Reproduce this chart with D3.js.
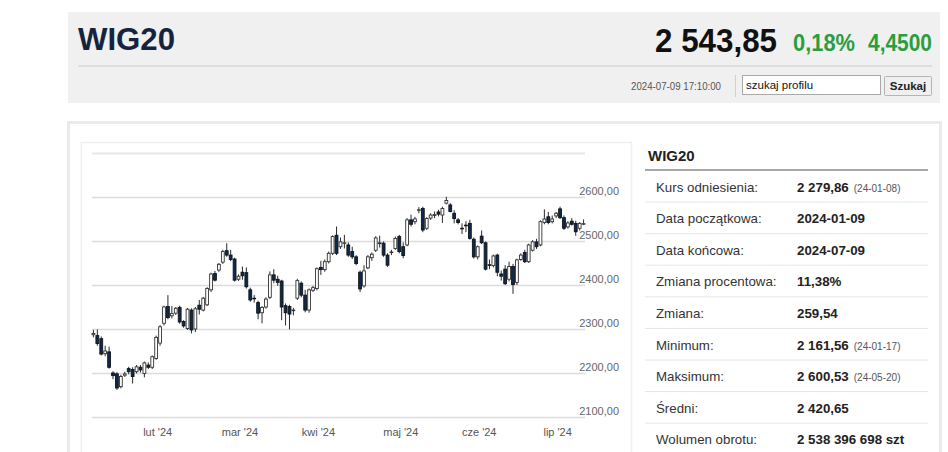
<!DOCTYPE html>
<html>
<head>
<meta charset="utf-8">
<script src="https://cdn.jsdelivr.net/npm/d3@7"></script>
<style>
  body { margin: 0; background: #fff; }
  svg text { font-family: "Liberation Sans", Arial, sans-serif; }
  svg text.narrow { font-family: "Liberation Sans Narrow", "Arial Narrow", "Liberation Sans", Arial, sans-serif; }
</style>
</head>
<body>
<div id="chart"></div>
<script>

//--------------------------------------------------------------------------
//
// data
//

var indexName = "WIG20",
    lastPrice = "2 543,85",
    changePct = "0,18%",
    changeAbs = "4,4500",
    quoteTime = "2024-07-09 17:10:00",
    searchHint = "szukaj profilu",
    searchButton = "Szukaj";

// trading days 2024 (MM-DD)
var days = [
  "01-09","01-10","01-11","01-12","01-15","01-16","01-17","01-18","01-19","01-22","01-23","01-24","01-25","01-26","01-29","01-30","01-31",
  "02-01","02-02","02-05","02-06","02-07","02-08","02-09","02-12","02-13","02-14","02-15","02-16","02-19","02-20","02-21","02-22","02-23","02-26","02-27","02-28","02-29",
  "03-01","03-04","03-05","03-06","03-07","03-08","03-11","03-12","03-13","03-14","03-15","03-18","03-19","03-20","03-21","03-22","03-25","03-26","03-27","03-28",
  "04-02","04-03","04-04","04-05","04-08","04-09","04-10","04-11","04-12","04-15","04-16","04-17","04-18","04-19","04-22","04-23","04-24","04-25","04-26","04-29","04-30",
  "05-02","05-06","05-07","05-08","05-09","05-10","05-13","05-14","05-15","05-16","05-17","05-20","05-21","05-22","05-23","05-24","05-27","05-28","05-29","05-31",
  "06-03","06-04","06-05","06-06","06-07","06-10","06-11","06-12","06-13","06-14","06-17","06-18","06-19","06-20","06-21","06-24","06-25","06-26","06-27","06-28",
  "07-01","07-02","07-03","07-04","07-05","07-08","07-09"
];

var open = [
  2287,2285,2278,2244,2248,2200,2198,2169,2195,2210,
  2208,2203,2213,2199,2218,2213,2233,2268,2313,2351,
  2330,2336,2349,2317,2301,2343,2300,2354,2343,2355,
  2389,2426,2434,2452,2478,2468,2459,2413,2429,2428,
  2389,2370,2360,2337,2350,2372,2423,2413,2409,2353,
  2351,2342,2370,2404,2377,2343,2388,2392,2440,2435,
  2453,2472,2513,2487,2495,2491,2476,2464,2429,2398,
  2439,2462,2479,2494,2495,2468,2474,2483,2510,2487,
  2491,2548,2544,2570,2574,2529,2552,2558,2566,2559,
  2586,2582,2563,2548,2529,2536,2540,2504,2464,2511,
  2496,2446,2444,2468,2425,2436,2413,2442,2406,2458,
  2474,2453,2479,2498,2491,2542,2555,2544,2557,2573,
  2553,2532,2545,2540,2529,2539
];

var high = [
  2298,2299,2283,2262,2260,2204,2202,2196,2203,2214,
  2213,2218,2218,2226,2224,2240,2285,2309,2353,2377,
  2352,2350,2353,2320,2348,2347,2350,2366,2373,2395,
  2428,2432,2450,2480,2495,2480,2462,2424,2442,2440,
  2394,2377,2364,2352,2372,2431,2436,2421,2412,2358,
  2355,2348,2414,2408,2389,2392,2398,2440,2455,2458,
  2476,2513,2533,2508,2514,2497,2487,2468,2433,2445,
  2468,2474,2511,2512,2499,2472,2480,2510,2514,2497,
  2552,2560,2555,2577,2578,2554,2563,2567,2571,2578,
  2600.53,2586,2570,2552,2540,2545,2548,2508,2490,2524,
  2499,2458,2469,2471,2433,2445,2453,2448,2460,2472,
  2480,2494,2502,2505,2547,2572,2566,2558,2566,2578,
  2558,2545,2552,2546,2543,2549
];

var low = [
  2281,2262,2240,2238,2210,2186,2161.56,2165,2191,2197,
  2176,2199,2201,2190,2209,2209,2230,2262,2308,2322,
  2324,2332,2312,2303,2298,2290,2293,2333,2340,2352,
  2384,2408,2430,2448,2464,2454,2408,2409,2412,2392,
  2362,2360,2322,2313,2346,2368,2404,2398,2320,2308,
  2299,2331,2366,2372,2338,2337,2384,2388,2423,2430,
  2449,2468,2468,2482,2483,2464,2459,2445,2384,2394,
  2436,2455,2475,2485,2464,2441,2468,2480,2472,2461,
  2488,2533,2538,2563,2520,2525,2548,2552,2556,2541,
  2583,2565,2540,2538,2516,2520,2503,2460,2458,2493,
  2433,2436,2440,2420,2410,2400,2408,2380,2400,2455,
  2450,2450,2476,2482,2488,2538,2538,2540,2552,2550,
  2525,2528,2535,2512,2524,2536
];

var close = [
  2290,2267,2243,2250,2213,2194,2166,2192,2198,2203,
  2192,2214,2207,2223,2213,2237,2281,2305,2350,2326,
  2335,2347,2316,2307,2345,2298,2346,2345,2370,2392,
  2425,2411,2447,2476,2468,2458,2411,2420,2421,2396,
  2366,2369,2336,2349,2368,2423,2411,2406,2350,2337,
  2334,2343,2410,2377,2343,2389,2394,2437,2435,2453,
  2472,2510,2472,2498,2496,2468,2464,2449,2391,2432,
  2464,2470,2507,2496,2468,2445,2475,2506,2476,2467,
  2548,2538,2550,2571,2525,2551,2559,2560,2561,2574,
  2592,2567,2551,2542,2528,2535,2506,2464,2487,2496,
  2436,2445,2466,2429,2420,2403,2442,2401,2457,2468,
  2453,2491,2498,2487,2544,2550,2542,2550,2563,2553,
  2529,2541,2538,2521,2540,2539.40
];

var monthKeys = ["02", "03", "04", "05", "06", "07"],
    monthLabels = ["lut '24", "mar '24", "kwi '24", "maj '24", "cze '24", "lip '24"];

var gridTicks = [2100, 2200, 2300, 2400, 2500, 2600, 2700],
    labelTicks = [2100, 2200, 2300, 2400, 2500, 2600];

var statLabels = ["Kurs odniesienia:", "Data początkowa:", "Data końcowa:", "Zmiana procentowa:",
                  "Zmiana:", "Minimum:", "Maksimum:", "Średni:", "Wolumen obrotu:"],
    statValues = ["2 279,86", "2024-01-09", "2024-07-09", "11,38%",
                  "259,54", "2 161,56", "2 600,53", "2 420,65", "2 538 396 698 szt"],
    statNotes = ["(24-01-08)", "", "", "", "", "(24-01-17)", "(24-05-20)", "", ""];

//--------------------------------------------------------------------------
//
// page
//

var svg = d3.select("#chart").append("svg")
    .attr("width", 948)
    .attr("height", 452);

// header box
var header = svg.append("g").attr("class", "header");

header.append("rect")
    .attr("x", 68).attr("y", 12)
    .attr("width", 872).attr("height", 91)
    .attr("fill", "#f0f0f0");

header.append("text")
    .attr("class", "narrow")
    .attr("x", 78).attr("y", 50)
    .attr("font-size", 31).attr("font-weight", "bold")
    .attr("fill", "#16233f")
    .attr("textLength", 97).attr("lengthAdjust", "spacingAndGlyphs")
    .text(indexName);

header.append("text")
    .attr("class", "narrow")
    .attr("x", 777).attr("y", 52)
    .attr("text-anchor", "end")
    .attr("font-size", 34).attr("font-weight", "bold")
    .attr("fill", "#111")
    .attr("textLength", 122).attr("lengthAdjust", "spacingAndGlyphs")
    .text(lastPrice);

header.append("text")
    .attr("class", "narrow")
    .attr("x", 793).attr("y", 51)
    .attr("font-size", 23).attr("font-weight", "bold")
    .attr("fill", "#2a9e3d")
    .attr("textLength", 62).attr("lengthAdjust", "spacingAndGlyphs")
    .text(changePct);

header.append("text")
    .attr("class", "narrow")
    .attr("x", 868).attr("y", 51)
    .attr("font-size", 23).attr("font-weight", "bold")
    .attr("fill", "#2a9e3d")
    .attr("textLength", 64).attr("lengthAdjust", "spacingAndGlyphs")
    .text(changeAbs);

header.append("line")
    .attr("x1", 78).attr("x2", 932)
    .attr("y1", 66).attr("y2", 66)
    .attr("stroke", "#d9d9d9").attr("stroke-width", 1.5);

header.append("text")
    .attr("class", "narrow")
    .attr("x", 721).attr("y", 89.5)
    .attr("text-anchor", "end")
    .attr("font-size", 10.5)
    .attr("fill", "#555")
    .attr("textLength", 90).attr("lengthAdjust", "spacingAndGlyphs")
    .text(quoteTime);

header.append("line")
    .attr("x1", 735.5).attr("x2", 735.5)
    .attr("y1", 75).attr("y2", 97)
    .attr("stroke", "#d0d0d0");

header.append("rect")
    .attr("x", 742.5).attr("y", 75.5)
    .attr("width", 138).attr("height", 19)
    .attr("fill", "#fff").attr("stroke", "#a9a9a9");

header.append("text")
    .attr("class", "narrow")
    .attr("x", 746).attr("y", 89)
    .attr("font-size", 11.5)
    .attr("fill", "#111")
    .text(searchHint);

header.append("rect")
    .attr("x", 884.5).attr("y", 76.5)
    .attr("width", 47).attr("height", 19)
    .attr("rx", 1)
    .attr("fill", "#efefef").attr("stroke", "#b5b5b5");

header.append("text")
    .attr("class", "narrow")
    .attr("x", 908).attr("y", 90)
    .attr("text-anchor", "middle")
    .attr("font-size", 11.5).attr("font-weight", "bold")
    .attr("fill", "#222")
    .text(searchButton);

// content panels
svg.append("rect")
    .attr("x", 68.5).attr("y", 122.5)
    .attr("width", 872).attr("height", 340)
    .attr("fill", "none")
    .attr("stroke", "#ebebeb").attr("stroke-width", 3);

svg.append("rect")
    .attr("x", 81.5).attr("y", 142.5)
    .attr("width", 550).attr("height", 320)
    .attr("fill", "none")
    .attr("stroke", "#efefef").attr("stroke-width", 1.5);

//--------------------------------------------------------------------------
//
// candlestick chart
//

var x = d3.scaleBand()
    .domain(d3.range(days.length))
    .range([92, 585])
    .paddingInner(0.28);

var y = d3.scaleLinear()
    .domain([2100, 2700])
    .range([417, 153]);

var fmt = function(v) { return d3.format(".2f")(v).replace(".", ","); };

var plot = svg.append("g").attr("class", "plot");

plot.selectAll("line.grid")
    .data(gridTicks)
    .enter().append("line")
    .attr("class", "grid")
    .attr("x1", 92).attr("x2", 585)
    .attr("y1", function(d) { return Math.round(y(d)) + 0.5; })
    .attr("y2", function(d) { return Math.round(y(d)) + 0.5; })
    .attr("stroke", function(d) { return d === 2700 ? "#e8e8e8" : "#dcdcdc"; })
    .attr("stroke-width", function(d) { return d === 2700 ? 2 : 1.3; });

plot.selectAll("text.ylab")
    .data(labelTicks)
    .enter().append("text")
    .attr("class", "ylab")
    .attr("x", 619)
    .attr("y", function(d) { return y(d) - 2; })
    .attr("text-anchor", "end")
    .attr("font-size", 11)
    .attr("fill", "#666")
    .text(fmt);

var monthIndex = monthKeys.map(function(m) {
  return days.findIndex(function(d) { return d.slice(0, 2) === m; });
});

plot.selectAll("text.xlab")
    .data(monthIndex)
    .enter().append("text")
    .attr("class", "xlab")
    .attr("x", function(d) { return x(d) - 1; })
    .attr("y", 436)
    .attr("text-anchor", "middle")
    .attr("font-size", 11)
    .attr("fill", "#555")
    .text(function(d, i) { return monthLabels[i]; });

var candle = plot.selectAll("g.candle")
    .data(d3.range(days.length))
    .enter().append("g")
    .attr("class", "candle");

candle.append("line")
    .attr("x1", function(i) { return x(i) + x.bandwidth() / 2; })
    .attr("x2", function(i) { return x(i) + x.bandwidth() / 2; })
    .attr("y1", function(i) { return y(high[i]); })
    .attr("y2", function(i) { return y(low[i]); })
    .attr("stroke", "#2b2b2b")
    .attr("stroke-width", 1);

candle.append("rect")
    .attr("x", function(i) { return x(i); })
    .attr("width", x.bandwidth())
    .attr("y", function(i) { return y(Math.max(open[i], close[i])); })
    .attr("height", function(i) { return Math.max(0.6, Math.abs(y(open[i]) - y(close[i]))); })
    .attr("fill", function(i) { return close[i] >= open[i] ? "#fff" : "#0d2a52"; })
    .attr("stroke", function(i) { return close[i] >= open[i] ? "#333" : "#111"; })
    .attr("stroke-width", 0.9);

//--------------------------------------------------------------------------
//
// statistics table
//

var table = svg.append("g").attr("class", "stats");

table.append("text")
    .attr("x", 648).attr("y", 160.5)
    .attr("font-size", 15).attr("font-weight", "bold")
    .attr("fill", "#222")
    .text(indexName);

table.append("line")
    .attr("x1", 645).attr("x2", 928)
    .attr("y1", 170).attr("y2", 170)
    .attr("stroke", "#a8a8a8").attr("stroke-width", 2);

var rowStep = 31.6;

table.selectAll("line.sep")
    .data(statLabels.slice(1))
    .enter().append("line")
    .attr("class", "sep")
    .attr("x1", 645).attr("x2", 928)
    .attr("y1", function(d, i) { return 202 + i * rowStep; })
    .attr("y2", function(d, i) { return 202 + i * rowStep; })
    .attr("stroke", "#e6e6e6");

table.selectAll("text.lab")
    .data(statLabels)
    .enter().append("text")
    .attr("class", "lab")
    .attr("x", 656)
    .attr("y", function(d, i) { return 191.5 + i * rowStep; })
    .attr("font-size", 13.3)
    .attr("fill", "#333")
    .text(function(d) { return d; });

var val = table.selectAll("text.val")
    .data(statValues)
    .enter().append("text")
    .attr("class", "val")
    .attr("x", 797)
    .attr("y", function(d, i) { return 191.5 + i * rowStep; })
    .attr("font-size", 13.3)
    .attr("fill", "#222");

val.append("tspan")
    .attr("font-weight", "bold")
    .text(function(d) { return d; });

val.append("tspan")
    .attr("dx", 5)
    .attr("font-size", 10)
    .attr("fill", "#555")
    .text(function(d, i) { return statNotes[i]; });

</script>
</body>
</html>
